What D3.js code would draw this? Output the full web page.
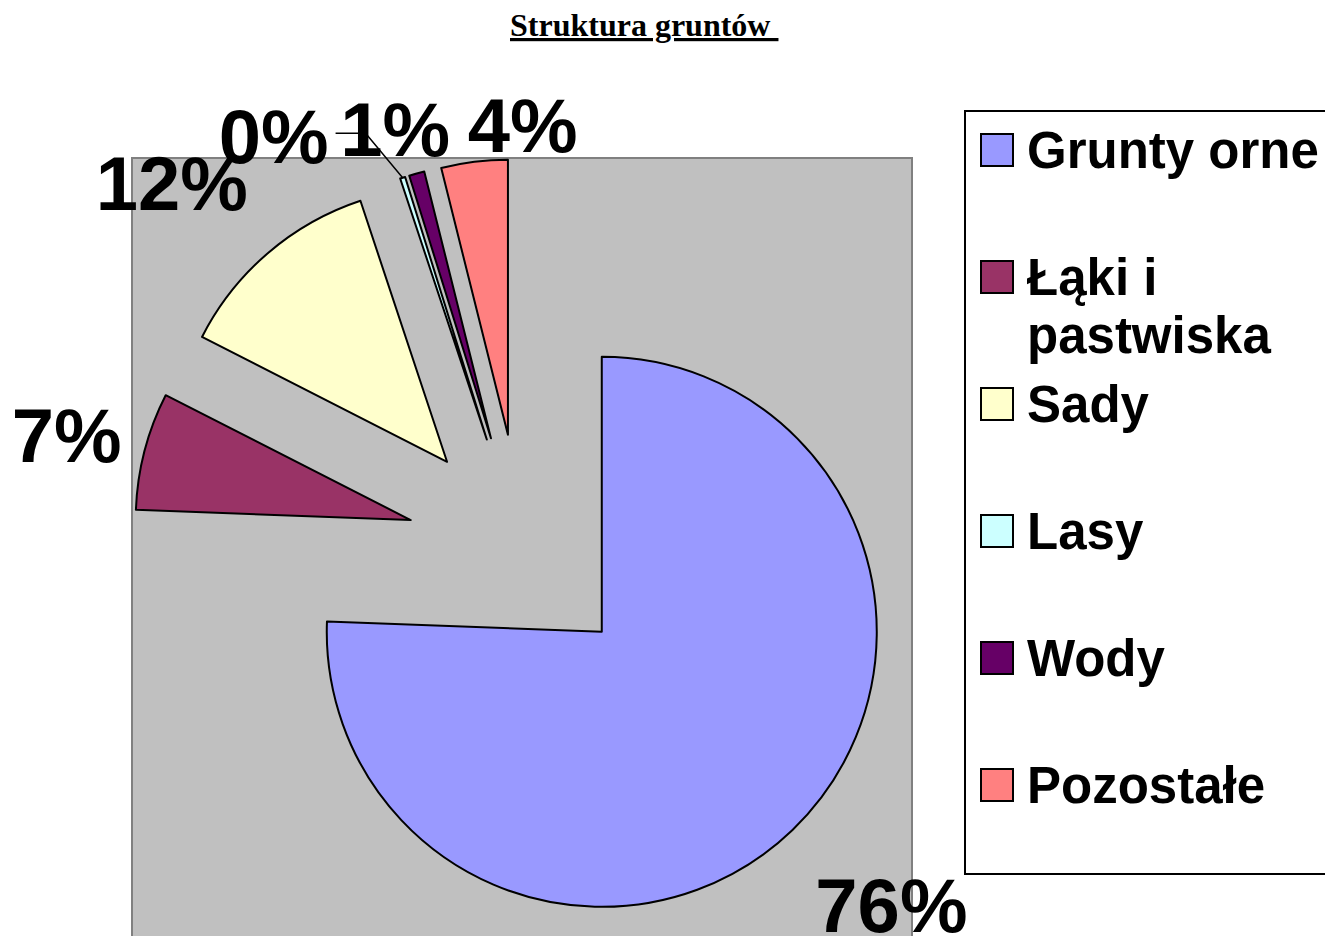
<!DOCTYPE html>
<html>
<head>
<meta charset="utf-8">
<script src="https://cdn.jsdelivr.net/npm/d3@7"></script>
<style>
  body { margin: 0; background: #fff; }
  svg { display: block; }
</style>
</head>
<body>
<div id="container"></div>
<script>
/* chart data */
var categories = ["Grunty orne", "Łąki i pastwiska", "Sady", "Lasy", "Wody", "Pozostałe"];
var values = [75.6, 6.9, 12.4, 0.3, 0.9, 3.9];
var colors = ["#9999ff", "#993366", "#ffffcc", "#ccffff", "#660066", "#ff8080"];
var legendLines = [["Grunty orne"], ["Łąki i", "pastwiska"], ["Sady"], ["Lasy"], ["Wody"], ["Pozostałe"]];

/* label nudges (layout only), relative to the default spot on the bisector */
var labelNudge = [[33, 7], [14, 8], [-34, 2], [-100, 49], [4, 47], [60, 57]];

var width = 1325, height = 936;
var cx = 522, cy = 549, radius = 275, explode = 115;

var svg = d3.select("#container")
            .append("svg")
            .attr("width", width)
            .attr("height", height)

/* title */
svg.append("text")
   .attr("x", 510)
   .attr("y", 36)
   .style("font-family", "'Liberation Serif', 'Times New Roman', serif")
   .style("font-weight", "bold")
   .style("font-size", "32px")
   .style("white-space", "pre")
   .style("text-decoration", "underline")
   .text("Struktura gruntów ")

/* plot area */
svg.append("rect")
   .attr("x", 132)
   .attr("y", 158)
   .attr("width", 780)
   .attr("height", 800)
   .attr("fill", "#c0c0c0")
   .attr("stroke", "#808080")
   .attr("stroke-width", 2)

var pie = d3.pie().sort(null).value(function(d) { return d; });
var arcs = pie(values);
var arc = d3.arc().innerRadius(0).outerRadius(radius);
var total = d3.sum(values);
var fmt = d3.format(".0%");

function unit(d) {
  var a = (d.startAngle + d.endAngle) / 2;
  return [Math.sin(a), -Math.cos(a)];
}

var g = svg.append("g")
           .attr("transform", "translate(" + cx + "," + cy + ")")

g.selectAll(".slice")
  .data(arcs)
  .enter().append("path")
    .attr("class", "slice")
    .attr("d", arc)
    .attr("transform", function(d) {
      var u = unit(d);
      return "translate(" + (u[0] * explode) + "," + (u[1] * explode) + ")";
    })
    .attr("fill", function(d, i) { return colors[i]; })
    .attr("stroke", "#000")
    .attr("stroke-width", 2)
    .attr("stroke-linejoin", "round")

/* label positions */
var labelPos = arcs.map(function(d, i) {
  var u = unit(d);
  var dist = explode + radius + 95;
  return [u[0] * dist + labelNudge[i][0], u[1] * dist + labelNudge[i][1]];
});

/* leader line for the tiny "Lasy" slice */
var li = 3;
var uL = unit(arcs[li]);
var endPt = [uL[0] * (explode + radius), uL[1] * (explode + radius)];
var startPt = [labelPos[li][0] + 62, labelPos[li][1] - 3];
var elbow = [startPt[0] + 30, startPt[1]];
g.append("path")
  .attr("d", d3.line()([startPt, elbow, endPt]))
  .attr("fill", "none")
  .attr("stroke", "#000")
  .attr("stroke-width", 1.5)

g.selectAll(".label")
  .data(arcs)
  .enter().append("text")
    .attr("class", "label")
    .attr("x", function(d, i) { return labelPos[i][0]; })
    .attr("y", function(d, i) { return labelPos[i][1] + 27; })
    .attr("text-anchor", "middle")
    .style("font-family", "'Liberation Sans', Arial, sans-serif")
    .style("font-weight", "bold")
    .style("font-size", "76px")
    .text(function(d) { return fmt(d.value / total); })

/* legend */
var legend = svg.append("g")

legend.append("rect")
  .attr("x", 965)
  .attr("y", 111)
  .attr("width", 400)
  .attr("height", 763)
  .attr("fill", "#fff")
  .attr("stroke", "#000")
  .attr("stroke-width", 2)

var item = legend.selectAll(".item")
  .data(categories)
  .enter().append("g")
    .attr("class", "item")
    .attr("transform", function(d, i) { return "translate(981," + (168 + i * 127) + ")"; })

item.append("rect")
  .attr("x", 0)
  .attr("y", -34)
  .attr("width", 32)
  .attr("height", 32)
  .attr("fill", function(d, i) { return colors[i]; })
  .attr("stroke", "#000")
  .attr("stroke-width", 2)

item.append("text")
  .attr("x", 47)
  .attr("y", 0)
  .style("font-family", "'Liberation Sans', Arial, sans-serif")
  .style("font-weight", "bold")
  .style("font-size", "51px")
  .selectAll("tspan")
  .data(function(d, i) { return legendLines[i]; })
  .enter().append("tspan")
    .attr("x", 46)
    .attr("dy", function(d, j) { return j === 0 ? 0 : 58; })
    .text(function(d) { return d; })
</script>
</body>
</html>
